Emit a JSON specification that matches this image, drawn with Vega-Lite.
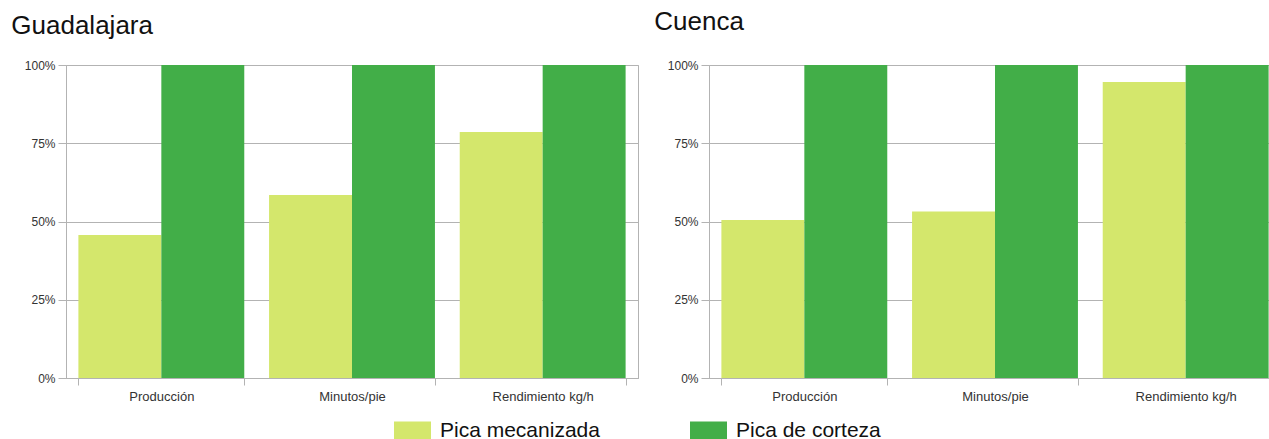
{
  "$schema": "https://vega.github.io/schema/vega-lite/v6.json",
  "padding": {"left": 10, "top": 8, "right": 0, "bottom": 0},
  "data": {"values": [
    {"ciudad": "Guadalajara", "indicador": "Producción", "metodo": "Pica mecanizada", "valor": 0.457},
    {"ciudad": "Guadalajara", "indicador": "Producción", "metodo": "Pica de corteza", "valor": 1.0},
    {"ciudad": "Guadalajara", "indicador": "Minutos/pie", "metodo": "Pica mecanizada", "valor": 0.585},
    {"ciudad": "Guadalajara", "indicador": "Minutos/pie", "metodo": "Pica de corteza", "valor": 1.0},
    {"ciudad": "Guadalajara", "indicador": "Rendimiento kg/h", "metodo": "Pica mecanizada", "valor": 0.786},
    {"ciudad": "Guadalajara", "indicador": "Rendimiento kg/h", "metodo": "Pica de corteza", "valor": 1.0},
    {"ciudad": "Cuenca", "indicador": "Producción", "metodo": "Pica mecanizada", "valor": 0.505},
    {"ciudad": "Cuenca", "indicador": "Producción", "metodo": "Pica de corteza", "valor": 1.0},
    {"ciudad": "Cuenca", "indicador": "Minutos/pie", "metodo": "Pica mecanizada", "valor": 0.532},
    {"ciudad": "Cuenca", "indicador": "Minutos/pie", "metodo": "Pica de corteza", "valor": 1.0},
    {"ciudad": "Cuenca", "indicador": "Rendimiento kg/h", "metodo": "Pica mecanizada", "valor": 0.946},
    {"ciudad": "Cuenca", "indicador": "Rendimiento kg/h", "metodo": "Pica de corteza", "valor": 1.0}
  ]},
  "spacing": 14,
  "hconcat": [
    {
      "title": {"text": "Guadalajara", "offset": 20},
      "width": 572,
      "height": 313,
      "transform": [{"filter": "datum.ciudad === 'Guadalajara'"}],
      "mark": {"type": "bar"},
      "encoding": {
        "x": {"field": "indicador", "type": "nominal", "sort": ["Producción", "Minutos/pie", "Rendimiento kg/h"],
              "scale": {"paddingInner": 0.13, "paddingOuter": 0.065}, "title": null},
        "xOffset": {"field": "metodo", "type": "nominal", "sort": ["Pica mecanizada", "Pica de corteza"], "scale": {"paddingInner": 0, "paddingOuter": 0}},
        "y": {"field": "valor", "type": "quantitative", "scale": {"domain": [0, 1]},
              "axis": {"values": [0, 0.25, 0.5, 0.75, 1], "format": ".0%"}, "title": null},
        "color": {"field": "metodo", "type": "nominal", "sort": ["Pica mecanizada", "Pica de corteza"],
                  "scale": {"domain": ["Pica mecanizada", "Pica de corteza"], "range": ["#d4e76c", "#42ae48"]},
                  "legend": {"title": null, "orient": "none", "legendX": 328, "legendY": 347}}
      }
    },
    {
      "title": {"text": "Cuenca", "offset": 24},
      "width": 572,
      "height": 313,
      "transform": [{"filter": "datum.ciudad === 'Cuenca'"}],
      "mark": {"type": "bar"},
      "encoding": {
        "x": {"field": "indicador", "type": "nominal", "sort": ["Producción", "Minutos/pie", "Rendimiento kg/h"],
              "scale": {"paddingInner": 0.13, "paddingOuter": 0.065}, "title": null},
        "xOffset": {"field": "metodo", "type": "nominal", "sort": ["Pica mecanizada", "Pica de corteza"], "scale": {"paddingInner": 0, "paddingOuter": 0}},
        "y": {"field": "valor", "type": "quantitative", "scale": {"domain": [0, 1]},
              "axis": {"values": [0, 0.25, 0.5, 0.75, 1], "format": ".0%"}, "title": null},
        "color": {"field": "metodo", "type": "nominal", "sort": ["Pica mecanizada", "Pica de corteza"],
                  "scale": {"domain": ["Pica mecanizada", "Pica de corteza"], "range": ["#d4e76c", "#42ae48"]},
                  "legend": {"title": null, "orient": "none", "legendX": 328, "legendY": 347}}
      }
    }
  ],
  "config": {
    "font": "Liberation Sans",
    "view": {"stroke": "#b3b3b3", "strokeWidth": 1},
    "title": {"anchor": "start", "frame": "bounds", "fontSize": 26, "fontWeight": "normal", "color": "#111111", "font": "Liberation Sans", "dx": -13},
    "axis": {
      "labelFont": "Liberation Sans", "labelFontSize": 12, "labelColor": "#333333",
      "domainColor": "#b3b3b3", "tickColor": "#b3b3b3", "gridColor": "#b3b3b3",
      "tickSize": 8, "labelPadding": 3
    },
    "axisX": {"labelAngle": 0, "tickBand": "extent", "grid": false, "labelPadding": 5, "tickSize": 7, "labelFontSize": 13},
    "axisY": {"grid": true},
    "legend": {
      "direction": "horizontal",
      "symbolType": "M-1,-0.5H1V0.5H-1Z", "symbolSize": 1369, "symbolStrokeWidth": 0, "symbolOpacity": 1,
      "labelFontSize": 21, "labelFont": "Liberation Sans", "labelColor": "#111111", "labelOffset": 9,
      "columnPadding": 90, "labelLimit": 400
    }
  }
}
